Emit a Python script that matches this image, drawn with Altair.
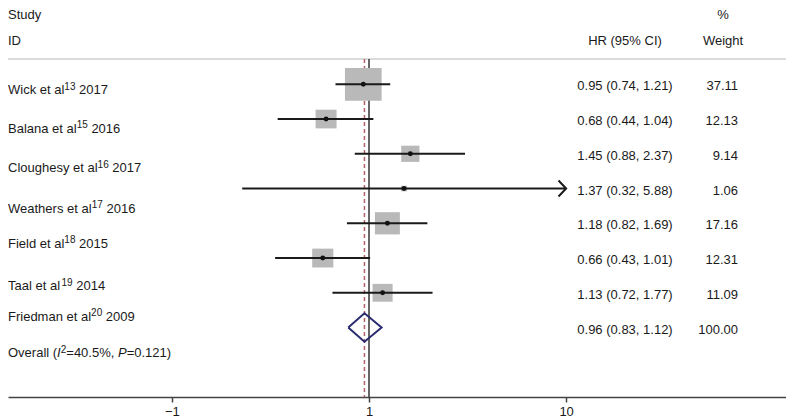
import altair as alt
import pandas as pd

# ---------------- data ----------------
studies = ["Wick et al", "Balana et al", "Cloughesy et al", "Weathers et al",
           "Field et al", "Taal et al", "Friedman et al"]
refs = ["13", "15", "16", "17", "18", "19", "20"]
years = ["2017", "2016", "2017", "2016", "2015", "2014", "2009"]
hr = [0.95, 0.68, 1.45, 1.37, 1.18, 0.66, 1.13]
ci_lo = [0.74, 0.44, 0.88, 0.32, 0.82, 0.43, 0.72]
ci_hi = [1.21, 1.04, 2.37, 5.88, 1.69, 1.01, 1.77]
weights = [37.11, 12.13, 9.14, 1.06, 17.16, 12.31, 11.09]
overall_hr, overall_lo, overall_hi = 0.96, 0.83, 1.12
overall_weight = 100.00
i2_text = "40.5%"
p_text = "0.121"
tick_values = [0.17, 1, 5.88]
tick_labels = ["\u22121", "1", "10"]

# ---------------- layout ----------------
W, H = 778, 389
PX_DEC = 256.2          # pixels per decade of the log axis
X_ONE = 361.0           # pixel position of HR = 1
ROW0, ROW_H = 76.3, 34.75
x_domain = [10 ** (-X_ONE / PX_DEC), 10 ** ((W - X_ONE) / PX_DEC)]
y_domain = [-ROW0 / ROW_H, (H - ROW0) / ROW_H]
HEADER_Y = 51
FONT = "Liberation Sans"
TXT = "#1a1a1a"


def row_of(px):
    return (px - ROW0) / ROW_H


# vertical positions (in row units) of the study labels, as drawn in the figure
label_rows = [0.173, 1.278, 2.417, 3.580, 4.587, 5.810, 6.696, 7.741]

AW = {' ': 278, '%': 889, '(': 333, ')': 333, ',': 278, '.': 278, '=': 584,
      'B': 667, 'C': 722, 'F': 611, 'I': 278, 'O': 778, 'P': 667, 'T': 611,
      'W': 944, 'a': 556, 'c': 500, 'd': 556, 'e': 556, 'g': 556, 'h': 556,
      'i': 222, 'k': 500, 'l': 222, 'm': 833, 'n': 556, 'o': 556, 'r': 333,
      's': 500, 't': 278, 'u': 556, 'v': 500, 'y': 500}
for d in "0123456789":
    AW[d] = 556


def tw(s, size):
    return sum(AW.get(c, 556) for c in s) * size / 1000.0


# ---------------- scales / encodings ----------------
label_expr = " : ".join(
    f"abs(datum.value - {v}) < 1e-6 ? '{l}'" for v, l in zip(tick_values, tick_labels)
) + " : ''"
x_axis = alt.Axis(values=tick_values, labelExpr=label_expr, title=None, grid=False,
                  domainColor="#444444", domainWidth=1.5, tickColor="#444444",
                  tickWidth=1.5, tickSize=5, labelFont=FONT, labelFontSize=13,
                  labelColor=TXT, labelPadding=3, labelFlush=False, labelOverlap=False)
x_scale = alt.Scale(type="log", domain=x_domain, nice=False)
y_scale = alt.Scale(domain=y_domain, nice=False, zero=False, reverse=True)


def X(field):
    return alt.X(field, type="quantitative", scale=x_scale, axis=x_axis)


Y = alt.Y("row:Q", scale=y_scale, axis=None)
XT = alt.X("px:Q", scale=alt.Scale(domain=[0, W], nice=False, zero=False), axis=None)

df = pd.DataFrame({"row": list(range(len(hr))), "hr": hr, "lo": ci_lo,
                   "hi": ci_hi, "weight": weights})
n = len(hr)

# ---------------- forest layers ----------------
header_rule = alt.Chart(pd.DataFrame({"a": [0]})).mark_rule(
    color="#cfcfcf", strokeWidth=1.5).encode(
    x=alt.value(0), x2=alt.value(W), y=alt.value(HEADER_Y))

null_line = alt.Chart(pd.DataFrame({"v": [1.0], "row": [0]})).mark_rule(
    color="#333333", strokeWidth=1.5).encode(
    x=X("v"), y=alt.value(HEADER_Y), y2=alt.value(H))

overall_line = alt.Chart(pd.DataFrame({"v": [overall_hr], "row": [0]})).mark_rule(
    color="#b06068", strokeWidth=1.5, strokeDash=[4, 3]).encode(
    x=X("v"), y=alt.value(HEADER_Y), y2=alt.value(H))

boxes = alt.Chart(df).mark_point(
    shape="M-1.06,-0.945L1.06,-0.945L1.06,0.945L-1.06,0.945Z",
    filled=True, color="#b9b9b9", opacity=1, strokeWidth=0).encode(
    x=X("hr"), y=Y,
    size=alt.Size("weight:Q", scale=alt.Scale(domain=[0, max(weights)], range=[0, 1198]),
                  legend=None))

ci = alt.Chart(df).mark_rule(color="#1a1a1a", strokeWidth=2).encode(
    x=X("lo"), x2="hi:Q", y=Y)

dots = alt.Chart(df).mark_point(shape="circle", filled=True, color="#111111",
                                size=24, opacity=1).encode(x=X("hr"), y=Y)

arrows = alt.Chart(df[df["hi"] >= max(tick_values)]).mark_point(
    shape="M-0.95,-1L0,0L-0.95,1", filled=False, color="#1a1a1a",
    strokeWidth=2, size=256, opacity=1).encode(x=X("hi"), y=Y)

half = 14.2 / ROW_H
dia = pd.DataFrame({
    "order": [0, 1, 2, 3, 4],
    "x": [overall_lo, overall_hr, overall_hi, overall_hr, overall_lo],
    "row": [n, n - half, n, n + half, n],
})
diamond = alt.Chart(dia).mark_line(color="#2b2b70", strokeWidth=2).encode(
    x=X("x"), y=Y, order="order:Q")

forest = alt.layer(header_rule, null_line, overall_line, boxes, ci, dots, arrows, diamond)

# ---------------- text layers ----------------
normal, italic, sup = [], [], []
for i in range(n):
    r = label_rows[i]
    w0 = tw(studies[i], 13)
    normal.append({"px": 0, "row": r, "t": studies[i]})
    sup.append({"px": w0, "row": r, "t": refs[i]})
    normal.append({"px": w0 + tw(refs[i], 10) + tw(" ", 13), "row": r, "t": years[i]})

r = label_rows[n]
parts = [("Overall (", "n"), ("I", "i"), ("2", "s"), ("=" + i2_text + ",", "n"),
         (" ", "gap"), ("P", "i"), ("=" + p_text + ")", "n")]
xpos = 0.0
for t, kind in parts:
    rec = {"px": xpos, "row": r, "t": t}
    if kind == "n":
        normal.append(rec)
        xpos += tw(t, 13)
    elif kind == "i":
        italic.append(rec)
        xpos += tw(t, 13)
    elif kind == "s":
        sup.append(rec)
        xpos += tw(t, 10)
    else:
        xpos += tw(t, 13)

header_top = row_of(6.65)
header_mid = row_of(32.65)
normal.append({"px": 0, "row": header_top, "t": "Study"})
normal.append({"px": 0, "row": header_mid, "t": "ID"})

center = [{"px": 617, "row": header_mid, "t": "HR (95% CI)"},
          {"px": 715, "row": header_top, "t": "%"},
          {"px": 715, "row": header_mid, "t": "Weight"}]
values_c, values_r = [], []
for i in range(n):
    values_c.append({"px": 617, "row": i, "t": f"{hr[i]:.2f} ({ci_lo[i]:.2f}, {ci_hi[i]:.2f})"})
    values_r.append({"px": 730, "row": i, "t": f"{weights[i]:.2f}"})
values_c.append({"px": 617, "row": n, "t": f"{overall_hr:.2f} ({overall_lo:.2f}, {overall_hi:.2f})"})
values_r.append({"px": 730, "row": n, "t": f"{overall_weight:.2f}"})


def text_layer(recs, **kw):
    props = dict(font=FONT, fontSize=13, color=TXT, baseline="middle", align="left")
    props.update(kw)
    return alt.Chart(pd.DataFrame(recs)).mark_text(**props).encode(
        x=XT, y=Y, text="t:N")


texts = alt.layer(
    text_layer(normal),
    text_layer(italic, fontStyle="italic"),
    text_layer(sup, fontSize=10, dy=-3.5),
    text_layer(center, align="center"),
    text_layer(values_c, align="center", dy=2),
    text_layer(values_r, align="right", dy=2),
)

chart = alt.layer(forest, texts).resolve_scale(x="independent").properties(
    width=W, height=H,
    autosize=alt.AutoSizeParams(type="none"),
    padding={"left": 0, "top": 0, "right": 0, "bottom": 21},
).configure_view(stroke=None)

chart.save("out.html", embed_options={"renderer": "svg", "actions": False})
